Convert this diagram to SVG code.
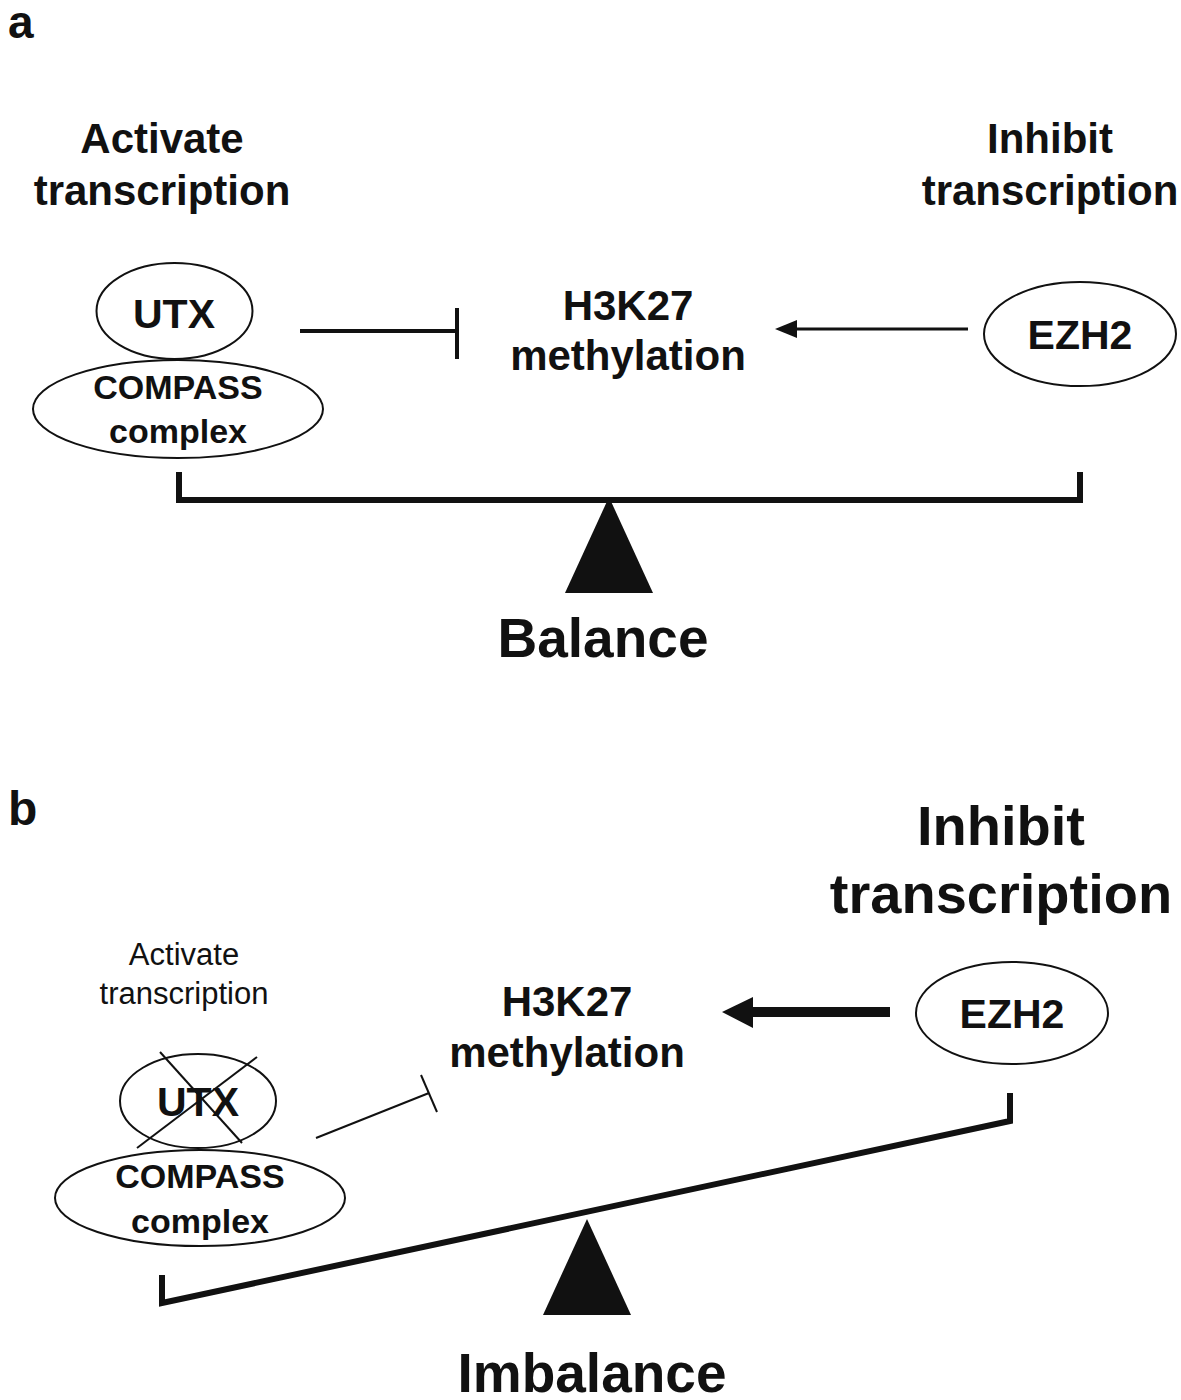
<svg xmlns="http://www.w3.org/2000/svg" width="1181" height="1400" viewBox="0 0 1181 1400">
<style>
text{font-family:"Liberation Sans",Arial,sans-serif;fill:#111;text-anchor:middle}
.b{font-weight:bold}
.node{fill:#fff;stroke:#111;stroke-width:2}
.beam{fill:none;stroke:#111;stroke-width:6;stroke-linejoin:miter}
.ln{stroke:#111;fill:none}
</style>
<rect width="1181" height="1400" fill="#fff"/>

<!-- Panel a -->
<text x="8" y="38" class="b" style="text-anchor:start" font-size="46">a</text>
<text x="162" y="153" class="b" font-size="42">Activate</text>
<text x="162" y="205" class="b" font-size="42">transcription</text>
<text x="1050" y="153" class="b" font-size="42">Inhibit</text>
<text x="1050" y="205" class="b" font-size="42">transcription</text>

<g id="a-utx"><ellipse class="node" cx="174.5" cy="311" rx="78" ry="48"/><text x="174" y="328" class="b" font-size="41">UTX</text></g>
<g id="a-compass"><ellipse class="node" cx="178" cy="409" rx="145" ry="49"/><text x="178" y="399" class="b" font-size="34">COMPASS</text><text x="178" y="443" class="b" font-size="34">complex</text></g>
<g id="a-h3k27"><text x="628" y="320" class="b" font-size="42">H3K27</text><text x="628" y="370" class="b" font-size="42">methylation</text></g>
<g id="a-ezh2"><ellipse class="node" cx="1080" cy="334" rx="96" ry="52"/><text x="1080" y="349" class="b" font-size="41">EZH2</text></g>

<g id="a-connectors">
<line class="ln" x1="300" y1="331" x2="457" y2="331" stroke-width="4"/>
<line class="ln" x1="457" y1="308" x2="457" y2="359" stroke-width="4"/>
<line class="ln" x1="968" y1="329" x2="795" y2="329" stroke-width="3"/>
<path d="M775,329 L797,320 L797,338 Z" fill="#111"/>
</g>

<g id="a-balance">
<path class="beam" d="M179,472 V500 H1080 V472"/>
<path d="M609,497 L565,593 L653,593 Z" fill="#111"/>
<text x="603" y="657" class="b" font-size="55">Balance</text>
</g>

<!-- Panel b -->
<text x="8" y="825" class="b" style="text-anchor:start" font-size="48">b</text>
<text x="1001" y="845" class="b" font-size="56">Inhibit</text>
<text x="1001" y="913" class="b" font-size="56">transcription</text>
<text x="184" y="965" font-size="31">Activate</text>
<text x="184" y="1004" font-size="31">transcription</text>

<g id="b-utx"><ellipse class="node" cx="198" cy="1101" rx="78" ry="47"/><text x="198" y="1116" class="b" font-size="41">UTX</text>
<line class="ln" x1="160" y1="1052" x2="242" y2="1143" stroke-width="2"/>
<line class="ln" x1="257" y1="1057" x2="137" y2="1148" stroke-width="2"/></g>
<g id="b-compass"><ellipse class="node" cx="200" cy="1198" rx="145" ry="48"/><text x="200" y="1188" class="b" font-size="34">COMPASS</text><text x="200" y="1233" class="b" font-size="34">complex</text></g>
<g id="b-h3k27"><text x="567" y="1016" class="b" font-size="42">H3K27</text><text x="567" y="1067" class="b" font-size="42">methylation</text></g>
<g id="b-ezh2"><ellipse class="node" cx="1012" cy="1013" rx="96" ry="51"/><text x="1012" y="1028" class="b" font-size="41">EZH2</text></g>

<g id="b-connectors">
<line class="ln" x1="316" y1="1138" x2="429" y2="1093" stroke-width="2"/>
<line class="ln" x1="421" y1="1075" x2="437" y2="1112" stroke-width="2"/>
<line class="ln" x1="890" y1="1012" x2="750" y2="1012" stroke-width="10"/>
<path d="M722,1012 L753,997 L753,1028 Z" fill="#111"/>
</g>

<g id="b-balance">
<path class="beam" d="M162,1275 V1303 L1010,1121 V1093"/>
<path d="M587,1219 L543,1315 L631,1315 Z" fill="#111"/>
<text x="592" y="1392" class="b" font-size="55">Imbalance</text>
</g>
</svg>
